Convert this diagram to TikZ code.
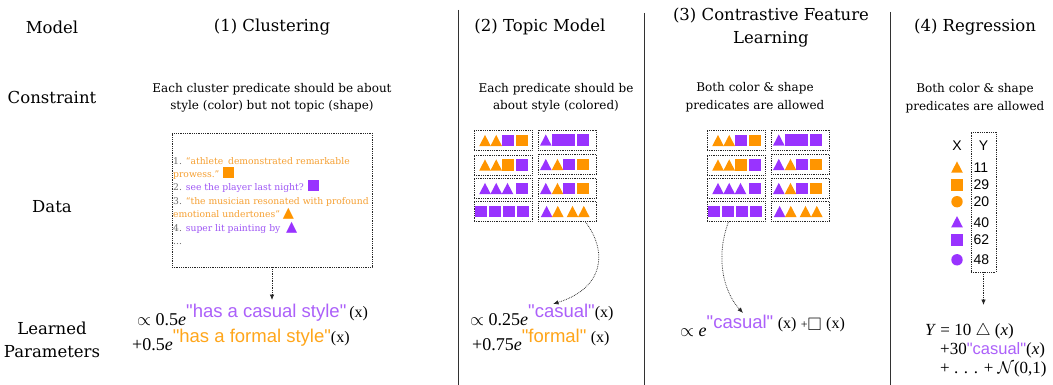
\documentclass[tikz,border=0pt]{standalone}
\usepackage{fix-cm}
\usepackage{amssymb}
\usepackage{fontspec}
\setmainfont{DejaVu Serif}
\newfontfamily\hsans{Liberation Sans}
\newfontfamily\tms{Liberation Serif}
\newfontfamily\symf{DejaVu Sans}
\usetikzlibrary{arrows.meta}

\definecolor{cO}{RGB}{255,149,0}
\definecolor{cP}{RGB}{153,51,255}
\definecolor{tOrange}{RGB}{255,166,26}
\definecolor{tPurple}{RGB}{172,96,250}
\definecolor{dOrange}{RGB}{246,160,50}
\definecolor{dPurple}{RGB}{158,85,245}
\definecolor{numgray}{RGB}{110,110,110}
\definecolor{sepgray}{RGB}{50,50,50}

\tikzset{
  shtri/.pic={\fill[#1] (-5.8,5.6) -- (5.8,5.6) -- (0,-5.6) -- cycle;},
  shsq/.pic={\fill[#1] (-5.8,-5.8) rectangle (5.8,5.8);},
  shdot/.pic={\fill[#1] (0,0) circle (5.7);}
}

% raised exponent, quoted sans predicate, and the "(x)" argument
\newcommand\upx[2][7.5pt]{\raisebox{#1}{#2}}
\newcommand\qsans[2]{{\hsans\fontsize{18.5}{20}\selectfont\color{#1}"#2"}}
\newcommand\ofx{{\fontsize{16}{18}\selectfont(x)}}
\newcommand\itri[1]{{\symf\fontsize{14.5}{14}\selectfont\textcolor{#1}{▲}}}
\newcommand\isq[1]{\textcolor{#1}{\rule{11pt}{11pt}}}

% the eight dotted boxes of coloured shapes
\newcommand\shapegrid[2]{%
\begin{scope}[xshift=#2]
  \node[dbox, minimum width=58] (#1-l1) at (503,140.5) {};
  \node[dbox, minimum width=58] (#1-l2) at (503,165) {};
  \node[dbox, minimum width=58] (#1-l3) at (503,188.5) {};
  \node[dbox, minimum width=58] (#1-l4) at (503,211.5) {};
  \node[dbox, minimum width=58.5] (#1-r1) at (567.5,140) {};
  \node[dbox, minimum width=58.5] (#1-r2) at (567.5,164.5) {};
  \node[dbox, minimum width=58.5] (#1-r3) at (567.5,188.5) {};
  \node[dbox, minimum width=58.5] (#1-r4) at (567.5,211.5) {};
  % left column
  \pic at (485,140.5) {shtri=cO}; \pic at (496.2,140.5) {shtri=cO};
  \pic at (508.2,140.5) {shsq=cP}; \pic at (521.9,140.5) {shsq=cO};
  \pic at (485,165) {shtri=cO}; \pic at (496.2,165) {shtri=cO};
  \pic at (508.2,165) {shsq=cO}; \pic at (521.9,165) {shsq=cP};
  \pic at (485,188.5) {shtri=cP}; \pic at (496.2,188.5) {shtri=cP};
  \pic at (507.5,188.5) {shtri=cP}; \pic at (521.9,188.5) {shsq=cP};
  \pic at (480.9,211.5) {shsq=cP}; \pic at (494.9,211.5) {shsq=cP};
  \pic at (509.2,211.5) {shsq=cP}; \pic at (523.2,211.5) {shsq=cP};
  % right column
  \pic at (545.8,140) {shtri=cP}; \pic at (558,140) {shsq=cP};
  \pic at (569.4,140) {shsq=cP}; \pic at (582.8,140) {shsq=cP};
  \pic at (545.8,164.5) {shtri=cP}; \pic at (557.5,164.5) {shtri=cO};
  \pic at (569.2,164.5) {shsq=cP}; \pic at (582.8,164.5) {shsq=cO};
  \pic at (545.8,188.5) {shtri=cP}; \pic at (557.5,188.5) {shtri=cO};
  \pic at (569.2,188.5) {shsq=cP}; \pic at (582.8,188.5) {shsq=cO};
  \pic at (546.6,211.5) {shtri=cP}; \pic at (557.8,211.5) {shtri=cO};
  \pic at (572.5,211.5) {shtri=cO}; \pic at (583.8,211.5) {shtri=cO};
\end{scope}}

\begin{document}
\begin{tikzpicture}[x=1pt,y=-1pt,
  hdr/.style={font=\fontsize{16.5}{23}\selectfont, align=center, inner sep=0},
  cons/.style={font=\fontsize{12}{17.5}\selectfont, align=center, inner sep=0},
  sep/.style={draw=sepgray, line width=0.9pt},
  dbox/.style={draw=black!85, densely dotted, line width=0.8pt, inner sep=0, minimum height=20},
  flow/.style={draw=black!85, densely dotted, line width=0.75pt, -{Latex[length=5.5pt,width=4.5pt]}},
  lpline/.style={anchor=base west, inner sep=0, font=\tms\fontsize{18}{20}\selectfont},
  tabtxt/.style={font=\hsans\fontsize{14}{14}\selectfont, inner sep=0}
]
\useasboundingbox (0,0) rectangle (1053,385);
\fill[white] (0,0) rectangle (1053,385);

% column separators
\draw[sep] (458,10) -- (458,385);
\draw[sep] (644,13) -- (644,385);
\draw[sep] (890,12) -- (890,385);

% headers
\node[hdr] (h0) at (52,27) {Model};
\node[hdr] (h1) at (272,27) {(1) Clustering};
\node[hdr] (h2) at (540,27) {(2) Topic Model};
\node[hdr] (h3) at (771,28) {(3) Contrastive Feature\\Learning};
\node[hdr] (h4) at (975,27) {(4) Regression};

% row labels
\node[hdr] (lb-c) at (52,97) {Constraint};
\node[hdr] (lb-d) at (52,207) {Data};
\node[hdr] (lb-p) at (52,340) {Learned\\Parameters};

% constraints
\node[cons] (c1) at (272,98) {Each cluster predicate should be about\\style (color) but not topic (shape)};
\node[cons] (c2) at (556,98) {Each predicate should be\\about style (colored)};
\node[cons] (c3) at (755,97) {Both color \& shape\\predicates are allowed};
\node[cons] (c4) at (975,98) {Both color \& shape\\predicates are allowed};

% (1) clustering: text samples
\node[dbox, minimum width=200, minimum height=134] (cl-box) at (272,200) {};
\node[anchor=north west, inner sep=0, align=left, font=\fontsize{9.2}{13.4}\selectfont] (cl-text) at (173,157) {%
\textcolor{numgray}{1.} \textcolor{dOrange}{“athlete\kern2pt\ demonstrated remarkable}\\
\textcolor{dOrange}{prowess.”} \isq{cO}\\
\textcolor{numgray}{2.} \textcolor{dPurple}{see the player last night?} \isq{cP}\\
\textcolor{numgray}{3.} \textcolor{dOrange}{“the musician resonated with profound}\\
\textcolor{dOrange}{emotional undertones”} \itri{cO}\\
\textcolor{numgray}{4.} \textcolor{dPurple}{super lit painting by}\ \ \itri{cP}\\
\textcolor{numgray}{...}};
\coordinate (cl-tip) at (272,300);
\draw[flow] (cl-box.south) -- (cl-tip);
\node[lpline] (cl-p1) at (137,325) {$\propto$ 0.5\textit{e}\upx{\qsans{tPurple}{has a casual style}\,\ofx}};
\node[lpline] (cl-p2) at (132,350) {+0.5\textit{e}\upx[8pt]{\qsans{tOrange}{has a formal style}\ofx}};

% (2) topic model
\shapegrid{tm}{0}
\coordinate (tm-tip) at (553,304);
\draw[flow] ([xshift=18]tm-r4.south) .. controls (608,252) and (604,288) .. (tm-tip);
\node[lpline] (tm-p1) at (470,325) {$\propto$ 0.25\textit{e}\upx{\qsans{tPurple}{casual}\ofx}};
\node[lpline] (tm-p2) at (472,350) {+0.75\textit{e}\upx[8pt]{\qsans{tOrange}{formal}\ \ofx}};

% (3) contrastive feature learning
\shapegrid{cf}{233}
\coordinate (cf-tip) at (743,313);
\draw[flow] ([xshift=-7.5]cf-l4.south) .. controls (716,255) and (722,290) .. (cf-tip);
\node[lpline] (cf-p1) at (680,336) {$\propto$ \textit{e}\upx[8pt]{\qsans{tPurple}{casual}\ \ofx\ {\fontsize{12}{12}\selectfont+}\raisebox{-2pt}{$\square$}\ \ofx}};

% (4) regression
\node[dbox, minimum width=25, minimum height=140] (rg-box) at (983.5,202) {};
\node[tabtxt] (rg-x) at (957,146) {X};
\node[tabtxt] (rg-y) at (983.5,146) {Y};
\pic at (957,167) {shtri=cO};
\pic at (957,185) {shsq=cO};
\pic at (957,201.7) {shdot=cO};
\pic at (957,221.7) {shtri=cP};
\pic at (957,239.8) {shsq=cP};
\pic at (957,259.8) {shdot=cP};
\node[tabtxt, anchor=west] (rg-n1) at (973.5,167.5) {11};
\node[tabtxt, anchor=west] (rg-n2) at (973.5,185) {29};
\node[tabtxt, anchor=west] (rg-n3) at (973.5,202) {20};
\node[tabtxt, anchor=west] (rg-n4) at (973.5,223) {40};
\node[tabtxt, anchor=west] (rg-n5) at (973.5,240) {62};
\node[tabtxt, anchor=west] (rg-n6) at (973.5,260) {48};
\coordinate (rg-tip) at (983.5,305);
\draw[flow] (rg-box.south) -- (rg-tip);
\node[lpline, font=\tms\fontsize{17}{20}\selectfont] (rg-p1) at (925,335) {\textit{Y} = 10 $\triangle$ (\textit{x})};
\node[lpline, font=\tms\fontsize{17}{20}\selectfont] (rg-p2) at (940,354) {+30{\hsans\fontsize{16.5}{18}\selectfont\color{tPurple}"casual"}(\textit{x})};
\node[lpline, font=\tms\fontsize{17}{20}\selectfont] (rg-p3) at (940,373) {+ . . . + $\mathcal{N}$(0,1)};
\end{tikzpicture}
\end{document}
